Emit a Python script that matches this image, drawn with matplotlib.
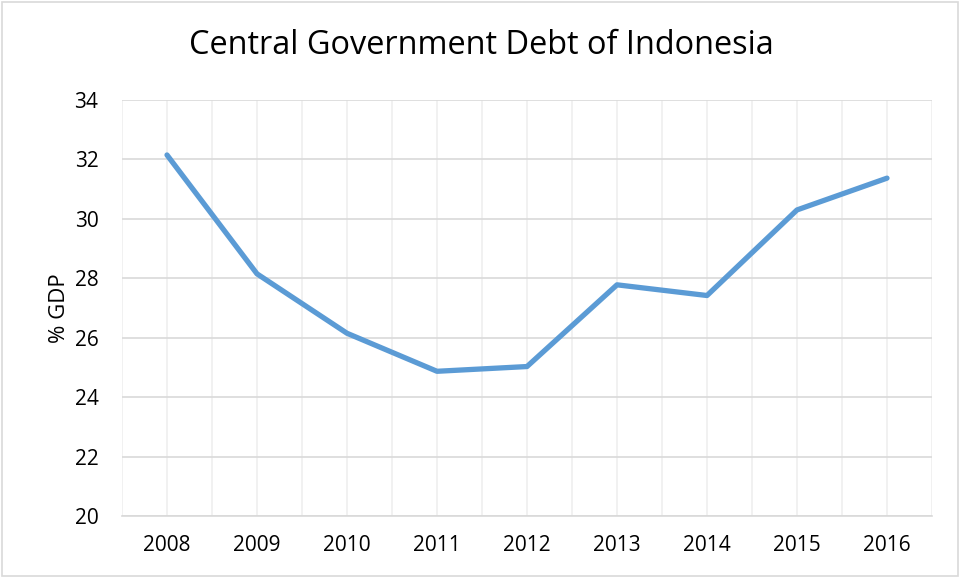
import matplotlib
matplotlib.use("Agg")
import matplotlib.pyplot as plt
from matplotlib.patches import Rectangle

# data
years = ["2008", "2009", "2010", "2011", "2012", "2013", "2014", "2015", "2016"]
debt_pct_gdp = [32.15, 28.15, 26.15, 24.87, 25.03, 27.78, 27.42, 30.30, 31.37]
y_ticks = [20, 22, 24, 26, 28, 30, 32, 34]

plt.rcParams["font.family"] = ["Open Sans", "DejaVu Sans"]

fig = plt.figure(figsize=(9.62, 5.77), dpi=100)
ax = fig.add_axes([122 / 962, 1 - 516 / 577, 810 / 962, 416 / 577])

x = list(range(len(years)))
ax.plot(x, debt_pct_gdp, color="#5B9BD5", linewidth=3.8,
        solid_capstyle="round", solid_joinstyle="round", zorder=3)

ax.set_xlim(-0.5, len(years) - 0.5)
ax.set_ylim(20, 34)
ax.set_yticks(y_ticks)
ax.set_xticks(x)
ax.set_xticklabels(years)

# light vertical grid every half category, darker horizontal grid
for v in [i * 0.5 - 0.5 for i in range(2 * len(years) + 1)]:
    ax.axvline(v, color="#efefef", linewidth=1.2, zorder=1)
for t in y_ticks:
    ax.axhline(t, color="#d9d9d9", linewidth=1.2, zorder=2)

for side in ["top", "right", "left"]:
    ax.spines[side].set_visible(False)
ax.spines["bottom"].set_color("#d9d9d9")
ax.spines["bottom"].set_linewidth(1.2)

ax.tick_params(axis="both", length=0, labelsize=15, colors="black")
ax.tick_params(axis="x", pad=14)
ax.tick_params(axis="y", pad=17)

ax.set_ylabel("% GDP", fontsize=16, labelpad=3)
fig.text(481 / 962, 1 - 46 / 577, "Central Government Debt of Indonesia",
         ha="center", va="center", fontsize=23.4)

fig.patches.append(Rectangle((0.002, 0.002), 0.994, 0.994, transform=fig.transFigure,
                             fill=False, edgecolor="#d9d9d9", linewidth=1.2))

fig.savefig("out.png", dpi=100)
